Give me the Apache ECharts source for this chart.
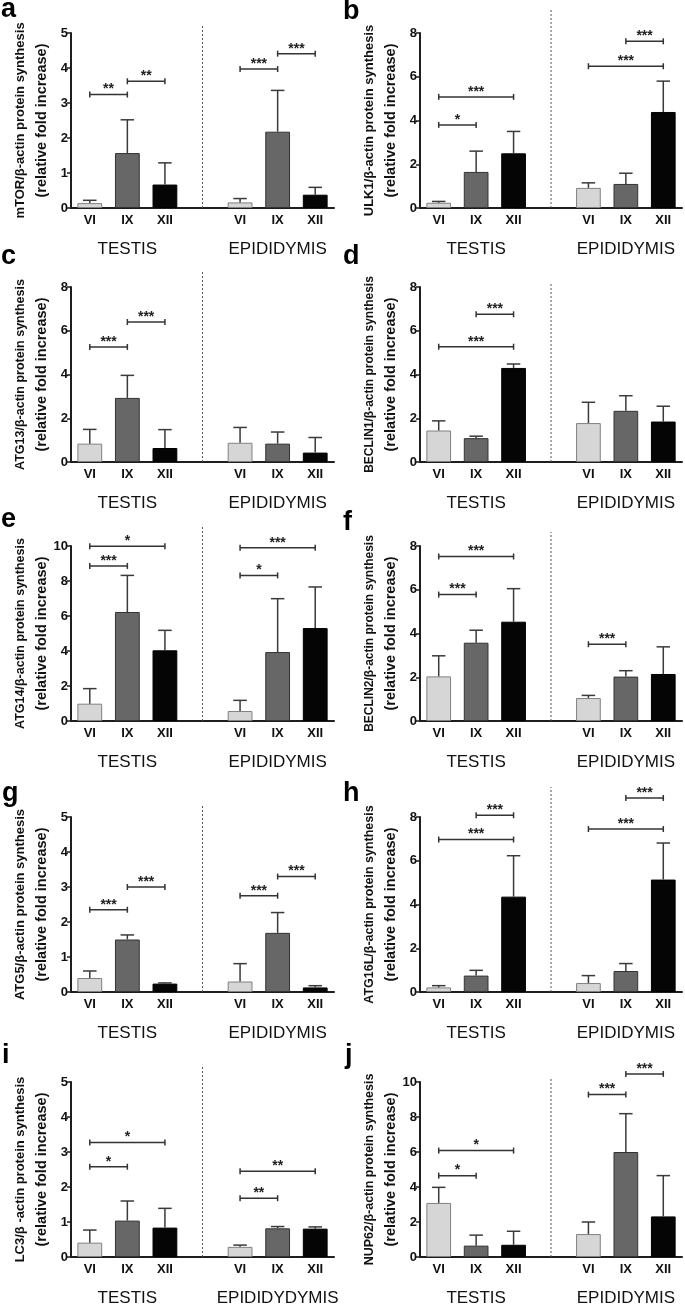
<!DOCTYPE html>
<html><head><meta charset="utf-8">
<script src="https://cdn.jsdelivr.net/npm/echarts@6/dist/echarts.min.js"></script>
<style>html,body{margin:0;padding:0;background:#fff}#c{width:685px;height:1307px}</style>
</head><body><div id="c"></div>
<script>
// ---------- data ----------
const stages = ['VI', 'IX', 'XII'];
const tissues = ['TESTIS', 'EPIDIDYMIS'];
const panelLetters = ['a','b','c','d','e','f','g','h','i','j'];
const yTitles = [
  'mTOR/β-actin protein synthesis',
  'ULK1/β-actin protein synthesis',
  'ATG13/β-actin protein synthesis',
  'BECLIN1/β-actin protein synthesis',
  'ATG14/β-actin protein synthesis',
  'BECLIN2/β-actin protein synthesis',
  'ATG5/β-actin protein synthesis',
  'ATG16L/β-actin protein synthesis',
  'LC3/β -actin protein synthesis',
  'NUP62/β-actin protein synthesis'
];
const yTitle2 = '(relative fold increase)';
const groupLabels = [
  ['TESTIS','EPIDIDYMIS'],['TESTIS','EPIDIDYMIS'],['TESTIS','EPIDIDYMIS'],['TESTIS','EPIDIDYMIS'],
  ['TESTIS','EPIDIDYMIS'],['TESTIS','EPIDIDYMIS'],['TESTIS','EPIDIDYMIS'],['TESTIS','EPIDIDYMIS'],
  ['TESTIS','EPIDIDYDYMIS'],['TESTIS','EPIDIDYMIS']
];
const yMax  = [5, 8, 8, 8, 10, 8, 5, 8, 5, 10];
const yStep = [1, 2, 2, 2, 2, 2, 1, 2, 1, 2];

// means: [TESTIS VI, IX, XII, EPIDIDYMIS VI, IX, XII]; sd: upper error
const mTOR_mean = [0.14, 1.57, 0.67, 0.16, 2.18, 0.38];
const mTOR_sd   = [0.08, 0.95, 0.62, 0.11, 1.18, 0.21];
const mTOR_sig  = [[0,1,3.24,'**'],[1,2,3.62,'**'],[3,4,3.97,'***'],[4,5,4.41,'***']];

const ULK1_mean = [0.24, 1.65, 2.50, 0.92, 1.10, 4.39];
const ULK1_sd   = [0.06, 0.95, 1.00, 0.23, 0.49, 1.41];
const ULK1_sig  = [[0,1,3.8,'*'],[0,2,5.08,'***'],[3,5,6.48,'***'],[4,5,7.62,'***']];

const ATG13_mean = [0.84, 2.93, 0.64, 0.88, 0.84, 0.43];
const ATG13_sd   = [0.65, 1.03, 0.84, 0.70, 0.53, 0.69];
const ATG13_sig  = [[0,1,5.26,'***'],[1,2,6.4,'***']];

const BECLIN1_mean = [1.44, 1.09, 4.30, 1.78, 2.34, 1.85];
const BECLIN1_sd   = [0.44, 0.09, 0.18, 0.95, 0.69, 0.70];
const BECLIN1_sig  = [[0,2,5.27,'***'],[1,2,6.75,'***']];

const ATG14_mean = [0.99, 6.23, 4.04, 0.57, 3.94, 5.31];
const ATG14_sd   = [0.86, 2.09, 1.14, 0.61, 3.05, 2.35];
const ATG14_sig  = [[0,1,8.86,'***'],[0,2,9.98,'*'],[3,4,8.32,'*'],[3,5,9.9,'***']];

const BECLIN2_mean = [2.04, 3.58, 4.54, 1.05, 2.03, 2.15];
const BECLIN2_sd   = [0.94, 0.57, 1.51, 0.12, 0.27, 1.24];
const BECLIN2_sig  = [[0,1,5.78,'***'],[0,2,7.52,'***'],[3,4,3.51,'***']];

const ATG5_mean = [0.40, 1.50, 0.24, 0.30, 1.69, 0.13];
const ATG5_sd   = [0.20, 0.13, 0.02, 0.51, 0.58, 0.05];
const ATG5_sig  = [[0,1,2.35,'***'],[1,2,3.0,'***'],[3,4,2.75,'***'],[4,5,3.3,'***']];

const ATG16L_mean = [0.21, 0.75, 4.36, 0.41, 0.96, 5.14];
const ATG16L_sd   = [0.08, 0.24, 1.87, 0.34, 0.34, 1.67];
const ATG16L_sig  = [[0,2,6.97,'***'],[1,2,8.08,'***'],[3,5,7.45,'***'],[4,5,8.87,'***']];

const LC3_mean = [0.41, 1.04, 0.84, 0.29, 0.82, 0.81];
const LC3_sd   = [0.36, 0.56, 0.55, 0.05, 0.05, 0.05];
const LC3_sig  = [[0,1,2.58,'*'],[0,2,3.27,'*'],[3,4,1.68,'**'],[3,5,2.45,'**']];

const NUP62_mean = [3.09, 0.65, 0.70, 1.31, 6.00, 2.32];
const NUP62_sd   = [0.89, 0.60, 0.77, 0.69, 2.19, 2.33];
const NUP62_sig  = [[0,1,4.65,'*'],[0,2,6.08,'*'],[3,4,9.28,'***'],[4,5,10.46,'***']];

const panelMeans = [mTOR_mean, ULK1_mean, ATG13_mean, BECLIN1_mean, ATG14_mean, BECLIN2_mean, ATG5_mean, ATG16L_mean, LC3_mean, NUP62_mean];
const panelSds   = [mTOR_sd, ULK1_sd, ATG13_sd, BECLIN1_sd, ATG14_sd, BECLIN2_sd, ATG5_sd, ATG16L_sd, LC3_sd, NUP62_sd];
const panelSigs  = [mTOR_sig, ULK1_sig, ATG13_sig, BECLIN1_sig, ATG14_sig, BECLIN2_sig, ATG5_sig, ATG16L_sig, LC3_sig, NUP62_sig];

// ---------- layout / style ----------
const rowTop = [33, 287, 546, 817, 1082];
const colLeft = [71, 420];
const colWidth = [263, 262];
const gridH = 175;
const dividerTop = [5.23, 9.1, 8.78, 8.2, 11.1, 8.64, 5.37, 9.37, 5.43, 10.29];
const title1Size = [13, 13, 12.5, 12, 12.5, 12, 13, 12.5, 13, 12.5];
const letterPos = [[1,19],[343,21],[1,266],[343,266],[1,529],[343,532],[2,803],[343,803],[2,1065],[345,1065]];
const FONT = '"Liberation Sans", Arial, Helvetica, sans-serif';
const fillColors = ['#d6d6d6', '#676767', '#050505'];
const borderColors = ['#808080', '#333333', '#000000'];
const AX = '#1e1e1e';

const cats = ['T-VI','T-IX','T-XII','gap','E-VI','E-IX','E-XII'];
const barToCat = i => (i < 3 ? i : i + 1);

const grids = [], xAxes = [], yAxes = [], series = [], graphics = [];

for (let k = 0; k < 10; k++) {
  const row = Math.floor(k / 2), col = k % 2;
  grids.push({ left: colLeft[col], top: rowTop[row], width: colWidth[col], height: gridH });
  xAxes.push({
    type: 'category', gridIndex: k, data: cats, boundaryGap: true,
    axisLine: { lineStyle: { color: AX, width: 2 } },
    axisTick: { alignWithLabel: true, length: 4, interval: (i) => i !== 3, lineStyle: { color: AX, width: 1.5 } },
    axisLabel: { interval: 0, margin: 6, fontFamily: FONT, fontWeight: 'bold', fontSize: 13, color: '#111',
      formatter: (v) => (v === 'gap' ? '' : v.split('-')[1]) }
  });
  const gl = groupLabels[k];
  xAxes.push({
    type: 'category', gridIndex: k, data: cats, position: 'bottom', offset: 25,
    axisLine: { show: false }, axisTick: { show: false },
    axisLabel: { interval: 0, margin: 8, fontFamily: FONT, fontSize: 17, color: '#111',
      formatter: (v, i) => (i === 1 ? gl[0] : i === 5 ? gl[1] : '') }
  });
  yAxes.push({
    type: 'value', gridIndex: k, min: 0, max: yMax[k], interval: yStep[k],
    splitLine: { show: false },
    axisLine: { show: true, lineStyle: { color: AX, width: 2 } },
    axisTick: { show: true, length: 4, lineStyle: { color: AX, width: 1.5 } },
    axisLabel: { margin: 3, fontFamily: FONT, fontWeight: 'bold', fontSize: 13, color: '#111' },
    name: '{a|' + yTitles[k] + '}\n{b|' + yTitle2 + '}', nameLocation: 'middle', nameGap: 19,
    nameTextStyle: { fontFamily: FONT, fontWeight: 'bold', color: '#111',
      rich: {
        a: { fontFamily: FONT, fontWeight: 'bold', fontSize: title1Size[k], lineHeight: 21, color: '#111' },
        b: { fontFamily: FONT, fontWeight: 'bold', fontSize: 14.5, lineHeight: 21, color: '#111' }
      } }
  });

  const means = panelMeans[k], sds = panelSds[k], sig = panelSigs[k];
  const barData = cats.map(() => '-');
  const errData = [];
  means.forEach((m, i) => {
    const s = i % 3;
    barData[barToCat(i)] = { value: m, itemStyle: { color: fillColors[s], borderColor: borderColors[s], borderWidth: 1 } };
    errData.push([barToCat(i), m, m + sds[i]]);
  });

  // divider (dashed)
  series.push({
    type: 'custom', xAxisIndex: 2 * k, yAxisIndex: k, data: [[3, dividerTop[k]]],
    encode: { x: 0, y: 1 }, silent: true, z: 1,
    renderItem: (params, api) => {
      const a = api.coord([api.value(0), 0]);
      const b = api.coord([api.value(0), api.value(1)]);
      return { type: 'line', shape: { x1: a[0], y1: a[1], x2: b[0], y2: b[1] },
        style: { stroke: '#555', lineWidth: 1, lineDash: [2, 2] } };
    }
  });
  series.push({
    type: 'bar', xAxisIndex: 2 * k, yAxisIndex: k, data: barData, barWidth: '66%', silent: true, z: 2
  });
  series.push({
    type: 'custom', xAxisIndex: 2 * k, yAxisIndex: k, data: errData,
    encode: { x: 0, y: [1, 2] }, silent: true, z: 3,
    renderItem: (params, api) => {
      const x = api.value(0);
      const p0 = api.coord([x, api.value(1)]);
      const p1 = api.coord([x, api.value(2)]);
      const hw = api.size([1, 0])[0] * 0.18;
      const st = { stroke: '#3a3a3a', lineWidth: 1.5 };
      return { type: 'group', children: [
        { type: 'line', shape: { x1: p0[0], y1: p0[1], x2: p1[0], y2: p1[1] }, style: st },
        { type: 'line', shape: { x1: p1[0] - hw, y1: p1[1], x2: p1[0] + hw, y2: p1[1] }, style: st }
      ] };
    }
  });
  series.push({
    type: 'custom', xAxisIndex: 2 * k, yAxisIndex: k,
    data: sig.map(s => [barToCat(s[0]), barToCat(s[1]), s[2]]),
    encode: { x: [0, 1], y: 2 }, silent: true, z: 4,
    renderItem: (params, api) => {
      const a = api.coord([api.value(0), api.value(2)]);
      const b = api.coord([api.value(1), api.value(2)]);
      const st = { stroke: '#333', lineWidth: 1.5 };
      const t = 3;
      return { type: 'group', children: [
        { type: 'line', shape: { x1: a[0], y1: a[1], x2: b[0], y2: b[1] }, style: st },
        { type: 'line', shape: { x1: a[0], y1: a[1] - t, x2: a[0], y2: a[1] + t }, style: st },
        { type: 'line', shape: { x1: b[0], y1: b[1] - t, x2: b[0], y2: b[1] + t }, style: st },
        { type: 'text', x: (a[0] + b[0]) / 2, y: a[1] - 5,
          style: { text: sig[params.dataIndex][3], align: 'center', verticalAlign: 'middle',
            fontFamily: FONT, fontWeight: 'bold', fontSize: 14, fill: '#222' } }
      ] };
    }
  });

  graphics.push({ type: 'text', x: letterPos[k][0], y: letterPos[k][1] - 9.5,
    style: { text: panelLetters[k], fontFamily: FONT, fontWeight: 'bold', fontSize: 27, fill: '#000', verticalAlign: 'middle' } });
}

const chart = echarts.init(document.getElementById('c'), null, { renderer: 'canvas' });
chart.setOption({
  animation: false,
  backgroundColor: '#fff',
  grid: grids, xAxis: xAxes, yAxis: yAxes, series: series, graphic: graphics
});
</script></body></html>
